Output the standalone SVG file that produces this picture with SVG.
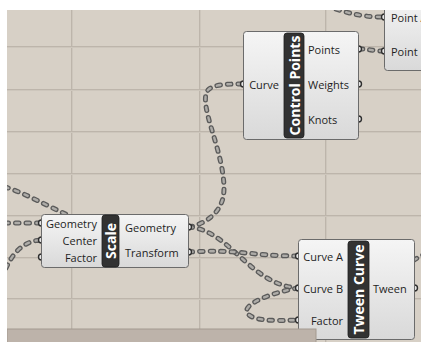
<svg xmlns="http://www.w3.org/2000/svg" width="421" height="342" viewBox="0 0 421 342">
  <style>
    .grid { stroke: #bdb5ab; stroke-width: 1; }
    .gridl { stroke: #cdc6bc; stroke-width: 1; }
    .body { fill: url(#nodeFill); stroke: #6b6b6b; stroke-width: 1; }
    .strip { fill: #323232; stroke: #1e1e1e; stroke-width: 0.8; }
    .title { font-family: "Open Sans", "Noto Sans", sans-serif; font-size: 14px; font-weight: bold; fill: #ffffff; text-anchor: middle; dominant-baseline: central; }
    .lbl { font-family: "Open Sans", "Noto Sans", sans-serif; font-size: 11px; fill: #1e1e1e; dominant-baseline: central; }
    .in { text-anchor: end; }
    .out { text-anchor: start; }
    .port { fill: #e6e6e6; stroke: #2e2e2e; stroke-width: 1.4; }
    .wire-o { fill: none; stroke: #5a5a5a; stroke-width: 5; stroke-dasharray: 3.5 7; stroke-linecap: round; }
    .wire-i { fill: none; stroke: #aeaca8; stroke-width: 2.4; stroke-dasharray: 3.5 7; stroke-linecap: round; }
  </style>
  <defs>
    <linearGradient id="nodeFill" x1="0" y1="0" x2="0" y2="1">
      <stop offset="0" stop-color="#f5f5f5"/>
      <stop offset="1" stop-color="#d9d9d9"/>
    </linearGradient>
    <clipPath id="canvas">
      <rect x="7" y="10" width="414" height="332"/>
    </clipPath>
    <path id="w1" d="M189,227 C205,224 219,214 223,198 C227,180 218,150 211,127 C206,110 203,96 208,90 C214,84 228,84 243,84"/>
    <path id="w2" d="M189,227 C230,230 250,285 298,288"/>
    <path id="w3" d="M189,252 C240,249 250,256 298,256"/>
    <path id="w4" d="M298,288 C270,293 240,305 248,314 C254,321 275,321 298,320"/>
    <path id="w5" d="M5,223 L41,223"/>
    <path id="w6" d="M6,268 C12,255 22,241 41,240"/>
    <path id="w7" d="M5,187 C25,193 45,205 70,216"/>
    <path id="w8" d="M359,49 C370,49 372,51 384,51"/>
    <path id="w9" d="M326,6 C348,13 360,17 384,17"/>
    <path id="w10" d="M405,266 C412,262 416,258 425,254"/>
  </defs>

  <rect x="0" y="0" width="421" height="342" fill="#ffffff"/>

  <g clip-path="url(#canvas)">
    <!-- canvas background and grid -->
    <rect x="7" y="10" width="414" height="332" fill="#d7d0c6"/>
    <g id="grid">
      <line class="grid" x1="71.5" y1="10" x2="71.5" y2="342"/>
      <line class="gridl" x1="72.5" y1="10" x2="72.5" y2="342"/>
      <line class="grid" x1="199.5" y1="10" x2="199.5" y2="342"/>
      <line class="gridl" x1="200.5" y1="10" x2="200.5" y2="342"/>
      <line class="grid" x1="325.5" y1="10" x2="325.5" y2="342"/>
      <line class="gridl" x1="326.5" y1="10" x2="326.5" y2="342"/>
      <line class="grid" x1="7" y1="46.5" x2="421" y2="46.5"/>
      <line class="gridl" x1="7" y1="47.5" x2="421" y2="47.5"/>
      <line class="grid" x1="7" y1="89.5" x2="421" y2="89.5"/>
      <line class="gridl" x1="7" y1="90.5" x2="421" y2="90.5"/>
      <line class="grid" x1="7" y1="131.5" x2="421" y2="131.5"/>
      <line class="gridl" x1="7" y1="132.5" x2="421" y2="132.5"/>
      <line class="grid" x1="7" y1="173.5" x2="421" y2="173.5"/>
      <line class="gridl" x1="7" y1="174.5" x2="421" y2="174.5"/>
      <line class="grid" x1="7" y1="215.5" x2="421" y2="215.5"/>
      <line class="gridl" x1="7" y1="216.5" x2="421" y2="216.5"/>
      <line class="grid" x1="7" y1="257.5" x2="421" y2="257.5"/>
      <line class="gridl" x1="7" y1="258.5" x2="421" y2="258.5"/>
      <line class="grid" x1="7" y1="298.5" x2="421" y2="298.5"/>
      <line class="gridl" x1="7" y1="299.5" x2="421" y2="299.5"/>
    </g>

    <!-- wires -->
    <g id="connectors">
      <use href="#w1" class="wire-o"/><use href="#w1" class="wire-i"/>
      <use href="#w2" class="wire-o"/><use href="#w2" class="wire-i"/>
      <use href="#w3" class="wire-o"/><use href="#w3" class="wire-i"/>
      <use href="#w4" class="wire-o"/><use href="#w4" class="wire-i"/>
      <use href="#w5" class="wire-o"/><use href="#w5" class="wire-i"/>
      <use href="#w6" class="wire-o"/><use href="#w6" class="wire-i"/>
      <use href="#w7" class="wire-o"/><use href="#w7" class="wire-i"/>
      <use href="#w8" class="wire-o"/><use href="#w8" class="wire-i"/>
      <use href="#w9" class="wire-o"/><use href="#w9" class="wire-i"/>
      <use href="#w10" class="wire-o"/><use href="#w10" class="wire-i"/>
    </g>

    <!-- Point component (partly off canvas); ports drawn first so the body hides their inner half -->
    <g id="point-node">
      <circle class="port" cx="384.5" cy="17" r="3"/>
      <circle class="port" cx="384.5" cy="51" r="3"/>
      <rect class="body" x="384.5" y="-5" width="50" height="75.5" rx="3"/>
      <text class="lbl out" x="391" y="17">Point A</text>
      <text class="lbl out" x="391" y="51">Point</text>
    </g>

    <!-- Control Points component -->
    <g id="control-points">
      <circle class="port" cx="243.5" cy="84" r="3"/>
      <circle class="port" cx="358.5" cy="49" r="3"/>
      <circle class="port" cx="358.5" cy="84" r="3"/>
      <circle class="port" cx="358.5" cy="119" r="3"/>
      <rect class="body" x="243.5" y="31.5" width="115" height="108" rx="3"/>
      <rect class="strip" x="284" y="33" width="20" height="105" rx="3"/>
      <text class="title" x="294" y="85.5" transform="rotate(-90 294 85.5)">Control Points</text>
      <text class="lbl in" x="279" y="84">Curve</text>
      <text class="lbl out" x="308" y="49">Points</text>
      <text class="lbl out" x="308" y="84">Weights</text>
      <text class="lbl out" x="308" y="119">Knots</text>
    </g>

    <!-- Scale component -->
    <g id="scale">
      <circle class="port" cx="41.5" cy="223" r="3"/>
      <circle class="port" cx="41.5" cy="240" r="3"/>
      <circle class="port" cx="41.5" cy="257" r="3"/>
      <circle class="port" cx="188.5" cy="227" r="3"/>
      <circle class="port" cx="188.5" cy="252" r="3"/>
      <rect class="body" x="41.5" y="214.5" width="147" height="53" rx="3"/>
      <rect class="strip" x="102" y="215" width="17" height="52" rx="3"/>
      <text class="title" x="110.5" y="241" transform="rotate(-90 110.5 241)">Scale</text>
      <text class="lbl in" x="97" y="223">Geometry</text>
      <text class="lbl in" x="97" y="240">Center</text>
      <text class="lbl in" x="97" y="257">Factor</text>
      <text class="lbl out" x="125" y="227">Geometry</text>
      <text class="lbl out" x="125" y="252">Transform</text>
    </g>

    <!-- Tween Curve component -->
    <g id="tween-curve">
      <circle class="port" cx="298.5" cy="256" r="3"/>
      <circle class="port" cx="298.5" cy="288" r="3"/>
      <circle class="port" cx="298.5" cy="320" r="3"/>
      <circle class="port" cx="414.5" cy="288" r="3"/>
      <rect class="body" x="298.5" y="239.5" width="116" height="100" rx="3"/>
      <rect class="strip" x="348" y="241" width="21" height="97" rx="3"/>
      <text class="title" x="358.5" y="289.5" transform="rotate(-90 358.5 289.5)">Tween Curve</text>
      <text class="lbl in" x="343" y="256">Curve A</text>
      <text class="lbl in" x="343" y="288">Curve B</text>
      <text class="lbl in" x="343" y="320">Factor</text>
      <text class="lbl out" x="373" y="288">Tween</text>
    </g>

    <!-- bottom panel overlapping the canvas -->
    <rect x="7" y="329" width="309" height="14" fill="#bdb3aa" stroke="#a3998f" stroke-width="1"/>
  </g>
</svg>
